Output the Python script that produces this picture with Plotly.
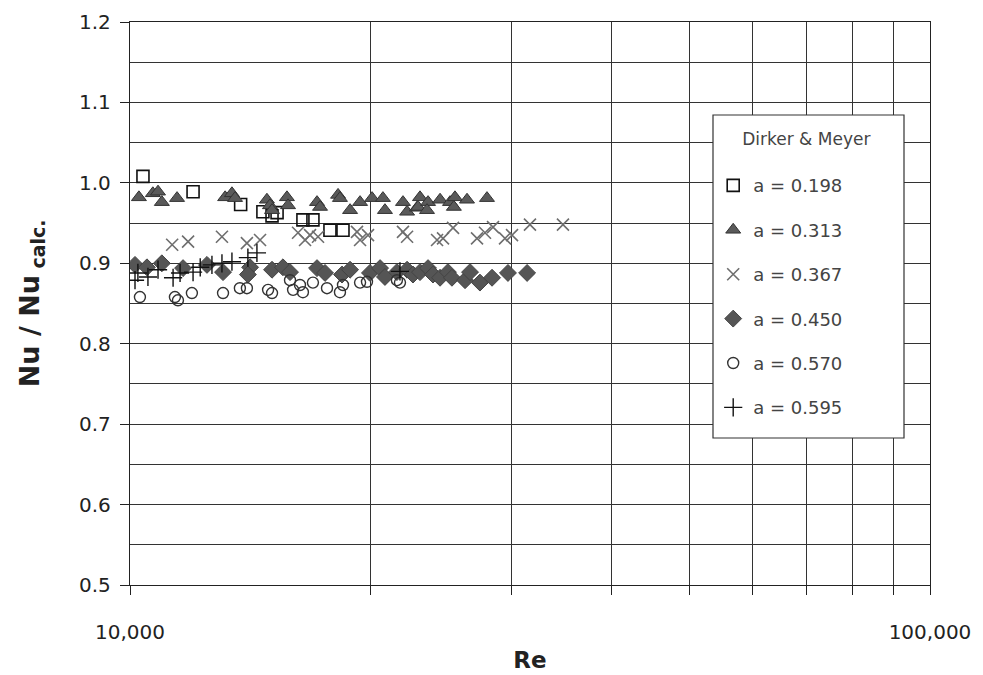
import plotly.graph_objects as go

# Reynolds number and Nu / Nu_calc for each annular diameter ratio a
re_198 = [10380, 11990, 13750, 14660, 15050, 15270, 16450, 16930, 17780, 18460]
nu_198 = [1.008, 0.989, 0.973, 0.964, 0.959, 0.963, 0.954, 0.954, 0.941, 0.941]

re_313 = [10260, 10680, 10840, 10960, 11450, 13150, 13410, 13530, 14830, 14960,
          15050, 15710, 15760, 17130, 17280, 18200, 18300, 18840, 19390, 20070,
          20710, 20830, 21940, 22200, 22840, 23040, 22910, 23580, 23510, 24410,
          25120, 25480, 25400, 26380, 27940]
nu_313 = [0.982, 0.987, 0.989, 0.976, 0.981, 0.982, 0.987, 0.981, 0.979, 0.972,
          0.966, 0.982, 0.972, 0.976, 0.970, 0.985, 0.981, 0.966, 0.976, 0.981,
          0.981, 0.966, 0.976, 0.964, 0.969, 0.982, 0.970, 0.976, 0.966, 0.979,
          0.976, 0.982, 0.970, 0.979, 0.981]

re_367 = [11290, 11820, 13030, 14000, 14540, 16220, 16550, 16790, 17180, 19220,
          19390, 19840, 21940, 22200, 24200, 24620, 25340, 27150, 27780, 28430,
          29430, 30030, 31620, 34770]
nu_367 = [0.923, 0.927, 0.933, 0.925, 0.929, 0.938, 0.929, 0.935, 0.933, 0.939,
          0.929, 0.935, 0.939, 0.933, 0.929, 0.931, 0.944, 0.931, 0.938, 0.945,
          0.931, 0.935, 0.948, 0.948]

re_450 = [10145, 10500, 10960, 11650, 12480, 13070, 14130, 14040, 15050, 15530,
          15850, 17130, 17530, 18410, 18840, 19950, 20540, 20830, 21560, 22200,
          22580, 23040, 23580, 23920, 24410, 24970, 25260, 26230, 26610, 27380,
          28350, 29680, 31360]
nu_450 = [0.898, 0.895, 0.900, 0.894, 0.898, 0.889, 0.895, 0.886, 0.892, 0.895,
          0.889, 0.894, 0.888, 0.886, 0.892, 0.888, 0.894, 0.883, 0.889, 0.892,
          0.886, 0.889, 0.894, 0.886, 0.882, 0.889, 0.882, 0.879, 0.889, 0.876,
          0.882, 0.888, 0.888]

re_570 = [10290, 11380, 11480, 11950, 13070, 13720, 14000, 14880, 15050, 15850,
          15990, 16310, 16450, 16930, 17630, 18300, 18460, 19390, 19780, 21560,
          21750]
nu_570 = [0.858, 0.858, 0.854, 0.863, 0.863, 0.869, 0.869, 0.867, 0.863, 0.879,
          0.867, 0.873, 0.864, 0.876, 0.869, 0.864, 0.873, 0.876, 0.877, 0.879,
          0.876]

re_595 = [10145, 10230, 10530, 10840, 11320, 11550, 11990, 12240, 12660, 13030,
          13410, 14040, 14410, 21750]
nu_595 = [0.879, 0.888, 0.883, 0.892, 0.882, 0.888, 0.889, 0.895, 0.898, 0.900,
          0.902, 0.907, 0.913, 0.890]

x_tick_vals = [10000, 20000, 30000, 40000, 50000, 60000, 70000, 80000, 90000, 100000]
x_tick_text = ["10,000", "", "", "", "", "", "", "", "", "100,000"]

FONT = "DejaVu Sans, Liberation Sans, Arial, sans-serif"
NB = "\u00a0"

series = [
    ("a = 0.198", re_198, nu_198, dict(symbol="square-open", size=12, color="#111111",
                                       line=dict(width=1.6, color="#111111"))),
    ("a = 0.313", re_313, nu_313, dict(symbol="triangle-up", size=13, color="#5a5a5a",
                                       line=dict(width=1, color="#333333"))),
    ("a = 0.367", re_367, nu_367, dict(symbol="x-thin-open", size=12, color="#6e6e6e",
                                       line=dict(width=1.6, color="#6e6e6e"))),
    ("a = 0.450", re_450, nu_450, dict(symbol="diamond", size=13, color="#555555",
                                       line=dict(width=1, color="#444444"))),
    ("a = 0.570", re_570, nu_570, dict(symbol="circle-open", size=11, color="#333333",
                                       line=dict(width=1.4, color="#333333"))),
    ("a = 0.595", re_595, nu_595, dict(symbol="cross-thin-open", size=13, color="#111111",
                                       line=dict(width=1.4, color="#111111"))),
]

fig = go.Figure()
for i, (name, xs, ys, marker) in enumerate(series):
    fig.add_trace(go.Scatter(
        x=xs, y=ys, mode="markers", name=name, marker=marker,
        legendgroup=f"g{i}",
    ))

# white framed panel behind the legend entries
fig.add_shape(
    type="rect", xref="paper", yref="paper",
    x0=0.72875, x1=0.9675, y0=0.2611, y1=0.8348,
    fillcolor="white", line=dict(color="#333333", width=1.2), layer="above",
)

fig.update_layout(
    width=983, height=675,
    margin=dict(l=130, r=53, t=22, b=90),
    paper_bgcolor="white", plot_bgcolor="white",
    font=dict(family=FONT, color="#1a1a1a"),
    showlegend=True,
    legend=dict(
        title=dict(text=NB * 5 + "Dirker & Meyer" + "<br>" + NB,
                   font=dict(size=17, color="#444444"), side="top"),
        font=dict(size=18, color="#444444"),
        x=0.729, y=0.8206, xanchor="left", yanchor="top",
        bgcolor="rgba(0,0,0,0)", borderwidth=0,
        tracegroupgap=18, itemwidth=30,
    ),
)

fig.update_xaxes(
    type="log", range=[4, 5], automargin=False,
    tickmode="array", tickvals=x_tick_vals, ticktext=x_tick_text,
    ticks="outside", ticklen=9, tickwidth=1.2, tickcolor="#222222",
    tickfont=dict(size=20, color="#222222"), ticklabelstandoff=20,
    showgrid=True, gridcolor="#333333", gridwidth=1.2,
    showline=True, linecolor="#222222", linewidth=1.4, mirror=True,
    title=dict(text="<b>Re</b>", font=dict(size=23, color="#222222"), standoff=8),
)

fig.update_yaxes(
    range=[0.5, 1.2], dtick=0.1, tick0=0.5, tickformat=".1f", automargin=False,
    ticks="outside", ticklen=9, tickwidth=1.2, tickcolor="#222222",
    tickfont=dict(size=20, color="#222222"), ticklabelstandoff=5,
    showgrid=True, gridcolor="#333333", gridwidth=1.2,
    minor=dict(dtick=0.05, tick0=0.5, showgrid=True, gridcolor="#333333", gridwidth=1.2, ticks=""),
    showline=True, linecolor="#222222", linewidth=1.4, mirror=True,
    zeroline=False,
    title=dict(text="<b>Nu / Nu<sub> calc.</sub></b>", font=dict(size=27, color="#222222"), standoff=31),
)

fig.write_html("out.html")
